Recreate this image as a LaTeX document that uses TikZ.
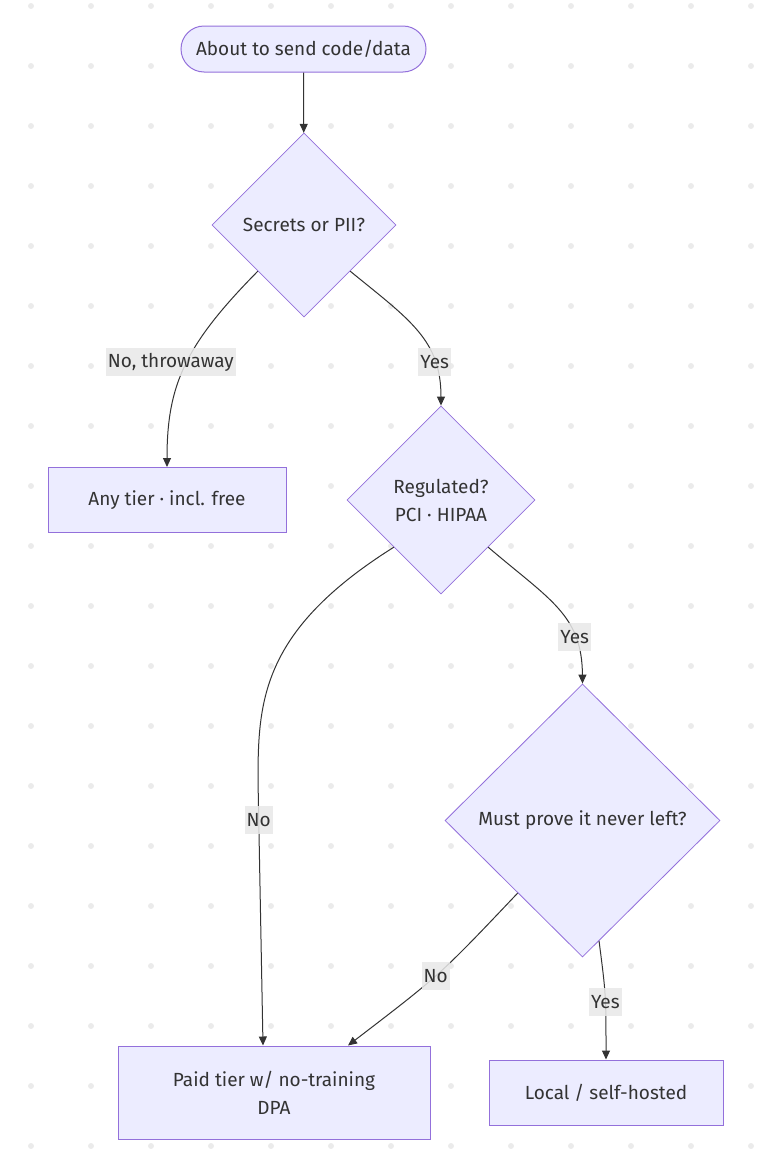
\documentclass[tikz,border=0pt]{standalone}
\usepackage{fontspec}
\setmainfont{Fira Sans}
\usetikzlibrary{shapes.geometric,arrows.meta,calc,positioning}
\definecolor{nodefill}{HTML}{ECECFF}
\definecolor{nodeline}{HTML}{9370DB}
\definecolor{edgeline}{HTML}{333333}
\definecolor{lblback}{HTML}{E8E8E8}
\definecolor{gridspot}{HTML}{EBEBEB}
\begin{document}
\begin{tikzpicture}[x=1pt,y=-1pt,
  font=\fontsize{19}{28}\selectfont, text=edgeline,
  every node/.style={inner sep=0pt},
  stadium/.style={draw=nodeline,fill=nodefill,line width=1pt,rounded corners=23pt,minimum width=245pt,minimum height=46pt},
  decision/.style={draw=nodeline,fill=nodefill,line width=0.8pt,diamond,aspect=1,align=center},
  tierbox/.style={draw=nodeline,fill=nodefill,line width=1pt,rectangle,align=center},
  edge/.style={draw=edgeline,line width=1pt,-{Triangle[length=9pt,width=8pt]}},
  lbl/.style={fill=lblback,fill opacity=0.85,text opacity=1,inner xsep=2pt,minimum height=28pt}]
\useasboundingbox (0,0) rectangle (762,1162);
% dotted backdrop
\foreach \gx in {0,...,12}
  \foreach \gy in {0,...,19}
    \fill[gridspot] (31+60*\gx,6+60*\gy) circle (3pt);

\node[stadium] (start) at (303.5,49) {About to send code/data};
\node[decision,minimum width=184pt,minimum height=184pt] (secrets) at (304,225) {Secrets or PII?};
\node[tierbox,minimum width=238pt,minimum height=65pt] (anytier) at (167,500) {Any tier · incl. free};
\node[decision,minimum width=188pt,minimum height=188pt] (regulated) at (441,500) {Regulated?\\PCI · HIPAA};
\node[decision,minimum width=275pt,minimum height=273pt] (prove) at (582.5,820.5) {Must prove it never left?};
\node[tierbox,minimum width=312pt,minimum height=93pt] (paid) at (274,1092.5) {Paid tier w/ no-training\\DPA};
\node[tierbox,minimum width=234pt,minimum height=65pt] (local) at (606,1092.5) {Local / self-hosted};

% arrows
\draw[edge] (start) -- (secrets);
\draw[edge] (secrets.south west) .. controls (185,345) and (167,385) ..
  node[lbl,pos=0.48,xshift=-16pt] (l_throw) {No, throwaway} (anytier.north);
\draw[edge] (secrets.south east) .. controls (410,320) and (441,340) ..
  node[lbl,pos=0.74] (l_yes1) {Yes} (regulated.north);
\draw[edge] (regulated.south west) .. controls (262,630) and (258,700) .. (258,780)
  -- node[lbl,pos=0.15] (l_no1) {No} ([xshift=-11pt]paid.north);
\draw[edge] (regulated.south east) .. controls (550,600) and (582,615) ..
  node[lbl,pos=0.72] (l_yes2) {Yes} (prove.north);
\draw[edge] ($(prove.south)!0.47!(prove.west)$) .. controls (440,975) ..
  node[lbl,pos=0.52] (l_no2) {No} ([xshift=74pt]paid.north);
\draw[edge] ($(prove.south)!0.12!(prove.east)$) .. controls (606,995) ..
  node[lbl,pos=0.56] (l_yes3) {Yes} (local.north);
\end{tikzpicture}
\end{document}
